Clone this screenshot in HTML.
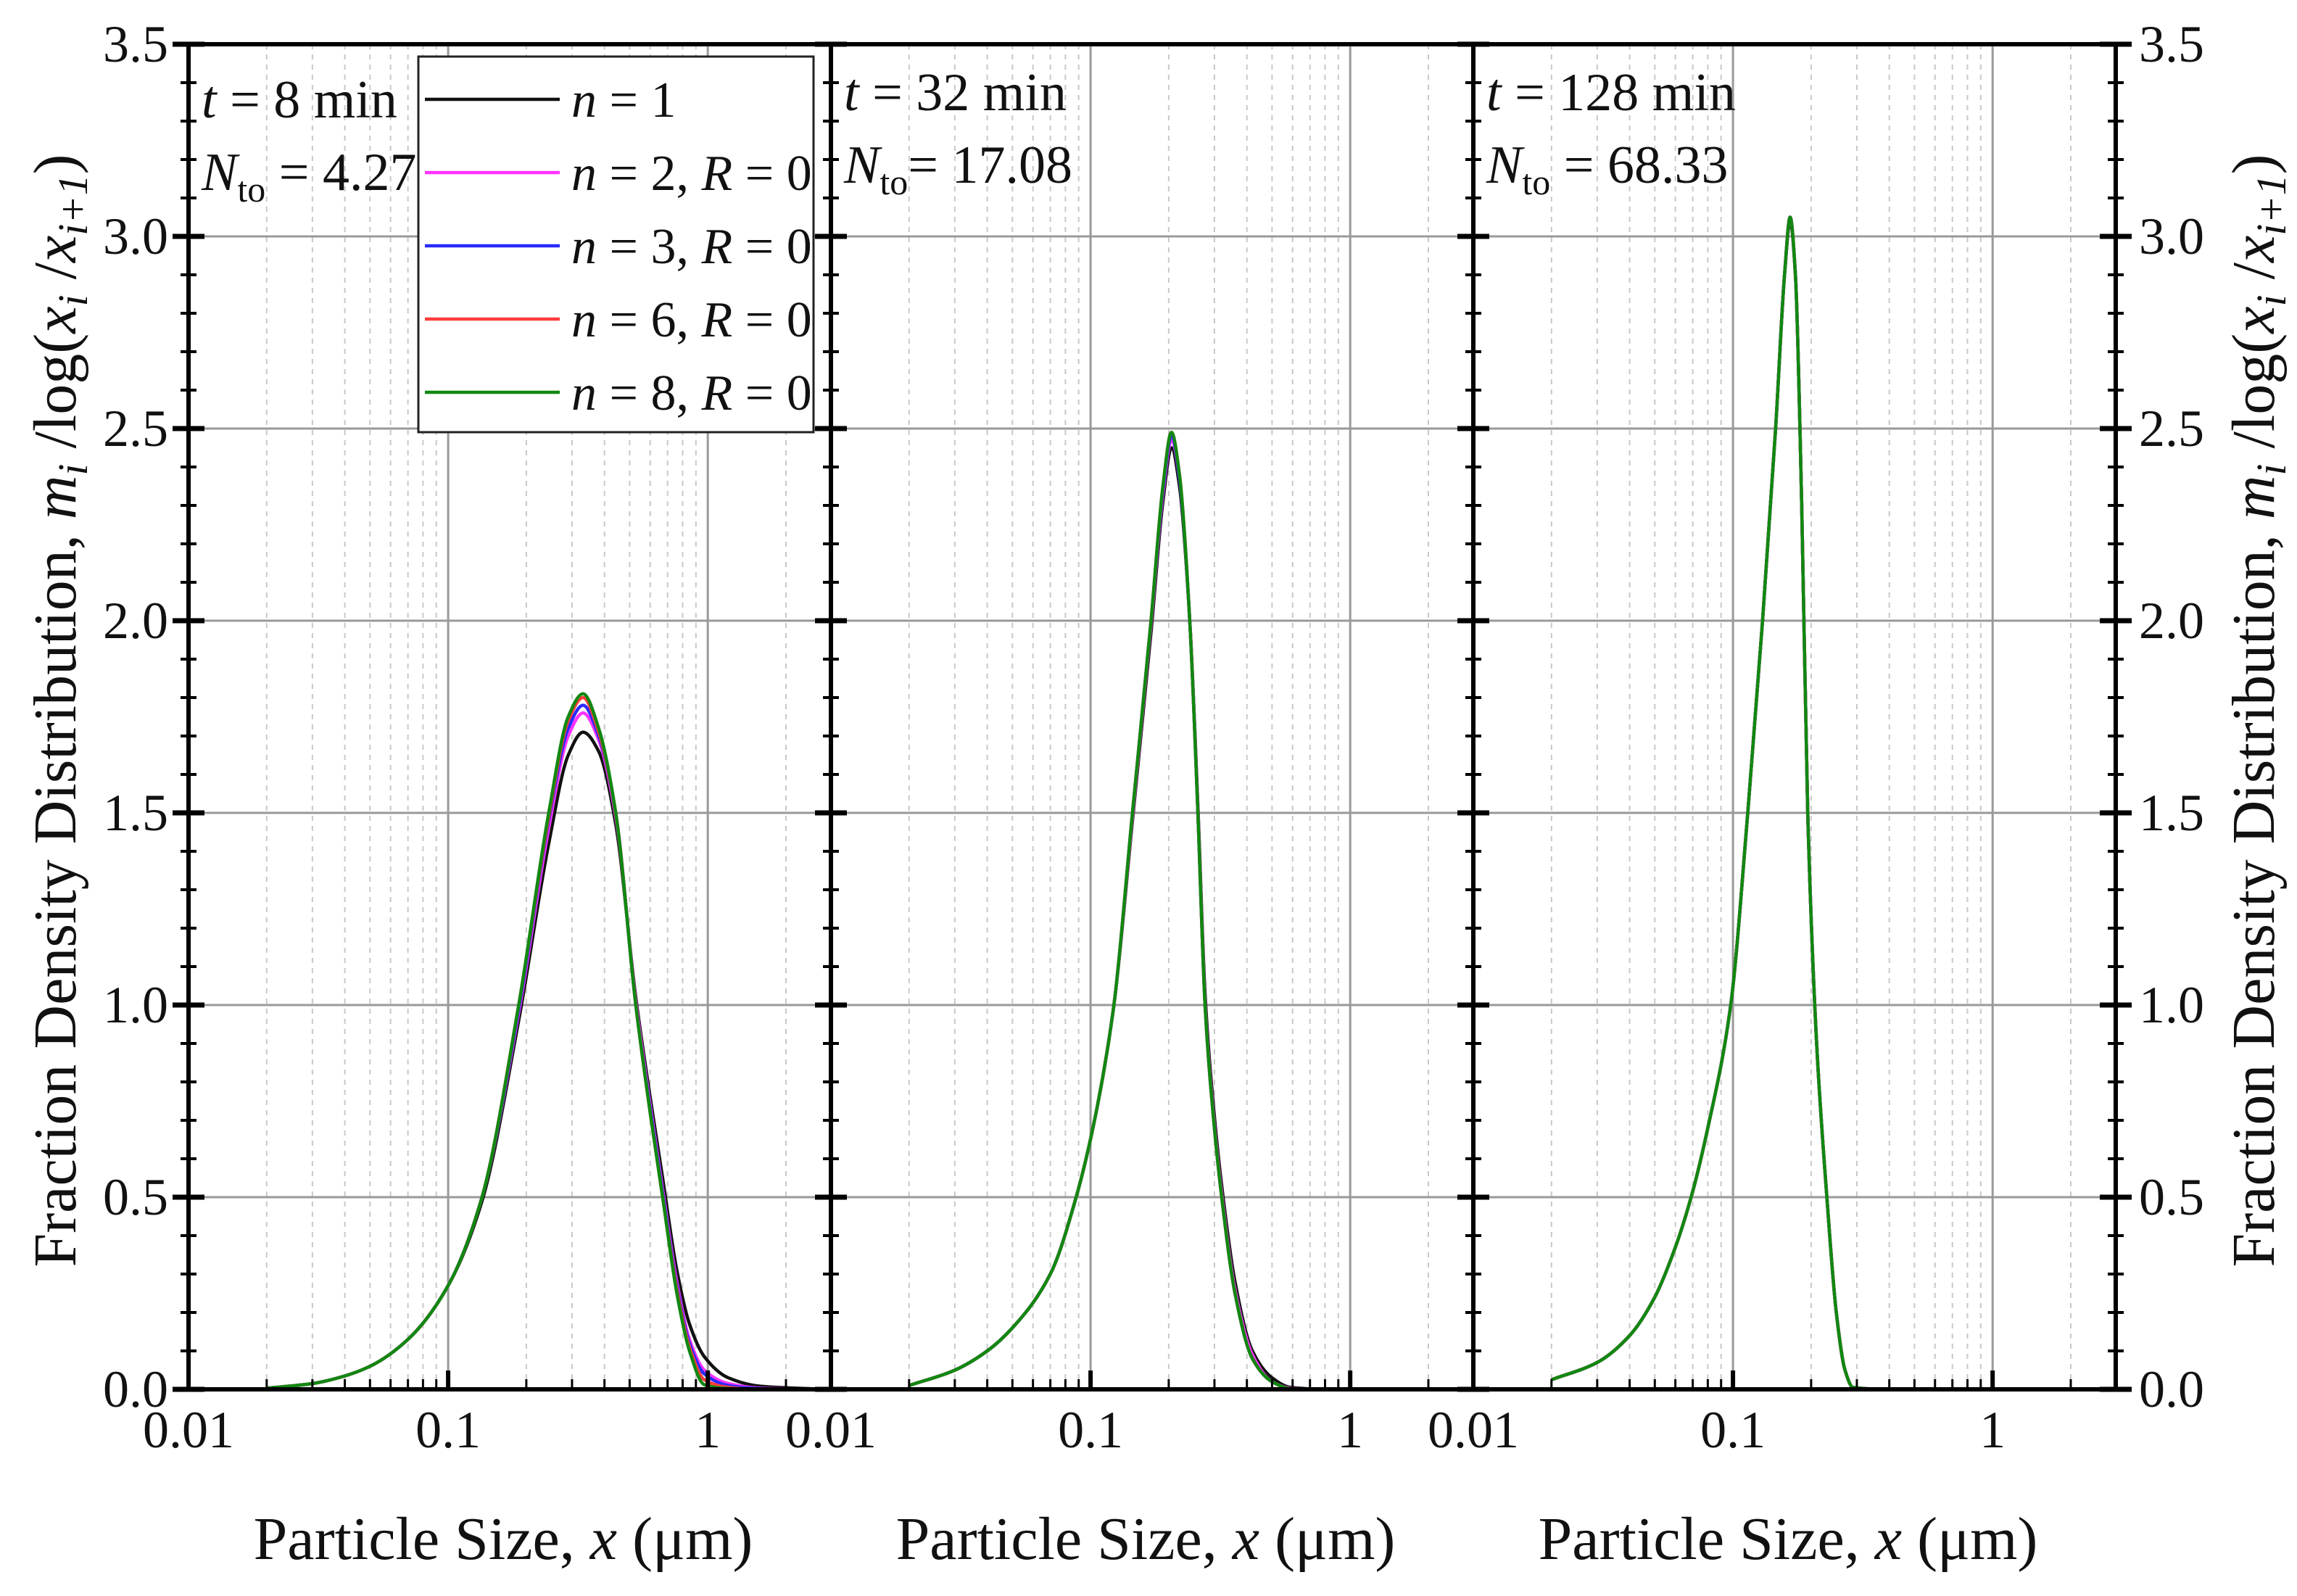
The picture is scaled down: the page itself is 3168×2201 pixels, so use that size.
<!DOCTYPE html>
<html><head><meta charset="utf-8"><style>
html,body{margin:0;padding:0;background:#fff}
svg{display:block}
text{font-family:"Liberation Serif",serif;fill:#111}
</style></head><body>
<svg id="chart" width="3168" height="2201" viewBox="0 0 3168 2201" xmlns="http://www.w3.org/2000/svg">
<g id="grid"></g>
<g id="curves"></g>
<g id="axes"></g>
<g id="labels"></g>

<text transform="translate(104,980) rotate(-90)" text-anchor="middle" font-size="84">Fraction Density Distribution, <tspan font-style="italic">m</tspan><tspan font-style="italic" font-size="58" dy="16">i</tspan><tspan dy="-16"> /log(</tspan><tspan font-style="italic">x</tspan><tspan font-style="italic" font-size="58" dy="16">i</tspan><tspan dy="-16"> /</tspan><tspan font-style="italic">x</tspan><tspan font-style="italic" font-size="58" dy="16">i+1</tspan><tspan dy="-16">)</tspan></text>
<text transform="translate(3136,980) rotate(-90)" text-anchor="middle" font-size="84">Fraction Density Distribution, <tspan font-style="italic">m</tspan><tspan font-style="italic" font-size="58" dy="16">i</tspan><tspan dy="-16"> /log(</tspan><tspan font-style="italic">x</tspan><tspan font-style="italic" font-size="58" dy="16">i</tspan><tspan dy="-16"> /</tspan><tspan font-style="italic">x</tspan><tspan font-style="italic" font-size="58" dy="16">i+1</tspan><tspan dy="-16">)</tspan></text>

<text x="694" y="2150" text-anchor="middle" font-size="84">Particle Size, <tspan font-style="italic">x</tspan> (μm)</text>
<text x="1580" y="2150" text-anchor="middle" font-size="84">Particle Size, <tspan font-style="italic">x</tspan> (μm)</text>
<text x="2466" y="2150" text-anchor="middle" font-size="84">Particle Size, <tspan font-style="italic">x</tspan> (μm)</text>

<g font-size="74">
<text x="278" y="162"><tspan font-style="italic">t</tspan> = 8 min</text>
<text x="278" y="262"><tspan font-style="italic">N</tspan><tspan font-size="50" dy="16">to</tspan><tspan dy="-16"> = 4.27</tspan></text>
</g>
<g font-size="74">
<text x="1164" y="152"><tspan font-style="italic">t</tspan> = 32 min</text>
<text x="1164" y="252"><tspan font-style="italic">N</tspan><tspan font-size="50" dy="16">to</tspan><tspan dy="-16">= 17.08</tspan></text>
</g>
<g font-size="74">
<text x="2050" y="152"><tspan font-style="italic">t</tspan> = 128 min</text>
<text x="2050" y="252"><tspan font-style="italic">N</tspan><tspan font-size="50" dy="16">to</tspan><tspan dy="-16"> = 68.33</tspan></text>
</g>

<g id="legend"></g>
</svg>
<script>
// ---- data ----
const seriesNames = ["n = 1", "n = 2, R = 0", "n = 3, R = 0", "n = 6, R = 0", "n = 8, R = 0"];
const seriesColors = ["#111111", "#ff33ff", "#2a2aff", "#ff3b3b", "#118811"];
const yTicks = [0.0, 0.5, 1.0, 1.5, 2.0, 2.5, 3.0, 3.5];
const yTickLabels = ["0.0", "0.5", "1.0", "1.5", "2.0", "2.5", "3.0", "3.5"];
const xTicks = [0.01, 0.1, 1];
const xTickLabels = ["0.01", "0.1", "1"];

const x8 = [0.02,0.03,0.04,0.05,0.07,0.1,0.135,0.187,0.244,0.29,0.331,0.38,0.442,0.528,0.6,0.67,0.76,0.85,0.97,1.2,1.6,2.9];
const y8n1 = [0.003,0.015,0.035,0.06,0.13,0.27,0.49,0.96,1.42,1.65,1.71,1.66,1.47,1.02,0.76,0.55,0.31,0.17,0.085,0.03,0.008,0];
const y8n2 = [0.003,0.015,0.035,0.06,0.13,0.27,0.5,0.98,1.46,1.70,1.76,1.69,1.49,1.01,0.74,0.52,0.28,0.13,0.05,0.015,0.003,0];
const y8n3 = [0.003,0.015,0.035,0.06,0.13,0.27,0.5,0.99,1.48,1.72,1.78,1.70,1.50,1.0,0.73,0.51,0.27,0.12,0.04,0.01,0.002,0];
const y8n6 = [0.003,0.015,0.035,0.06,0.13,0.27,0.5,1.0,1.49,1.74,1.80,1.71,1.50,1.0,0.72,0.5,0.26,0.11,0.025,0.005,0,0];
const y8n8 = [0.003,0.015,0.035,0.06,0.13,0.27,0.5,1.0,1.5,1.75,1.81,1.72,1.5,1.0,0.72,0.5,0.25,0.1,0.012,0.002,0,0];

const x32 = [0.02,0.03,0.04,0.05,0.07,0.088,0.105,0.123,0.145,0.171,0.19,0.205,0.22,0.241,0.259,0.276,0.3,0.32,0.36,0.42,0.5,0.59,0.8,2.9];
const y32n1 = [0.01,0.05,0.1,0.16,0.3,0.5,0.72,1.0,1.48,1.97,2.31,2.45,2.35,2.0,1.52,1.03,0.71,0.53,0.28,0.1,0.03,0.005,0,0];
const y32n2 = [0.01,0.05,0.1,0.16,0.3,0.5,0.72,1.0,1.49,1.99,2.33,2.47,2.37,2.0,1.51,1.01,0.69,0.51,0.26,0.09,0.02,0.003,0,0];
const y32n3 = [0.01,0.05,0.1,0.16,0.3,0.5,0.72,1.0,1.5,2.0,2.34,2.48,2.37,2.0,1.5,1.0,0.68,0.5,0.25,0.08,0.02,0.002,0,0];
const y32n6 = [0.01,0.05,0.1,0.16,0.3,0.5,0.72,1.0,1.5,2.0,2.35,2.49,2.38,2.0,1.5,1.0,0.68,0.5,0.25,0.08,0.02,0.002,0,0];
const y32n8 = [0.01,0.05,0.1,0.16,0.3,0.5,0.72,1.0,1.5,2.0,2.35,2.49,2.38,2.0,1.5,1.0,0.68,0.5,0.25,0.08,0.02,0.002,0,0];

const x128 = [0.02,0.03,0.04,0.05,0.06,0.069,0.08,0.098,0.114,0.13,0.146,0.158,0.166,0.174,0.184,0.194,0.21,0.23,0.25,0.27,0.29,0.4,2.9];
const y128n1 = [0.025,0.07,0.14,0.24,0.37,0.5,0.68,1.0,1.5,2.0,2.5,2.9,3.04,2.9,2.3,1.5,0.9,0.5,0.2,0.05,0.005,0,0];
const y128n2 = [0.025,0.07,0.14,0.24,0.37,0.5,0.68,1.0,1.5,2.0,2.5,2.9,3.05,2.9,2.3,1.5,0.9,0.5,0.2,0.05,0.005,0,0];
const y128n3 = [0.025,0.07,0.14,0.24,0.37,0.5,0.68,1.0,1.5,2.0,2.5,2.9,3.05,2.9,2.3,1.5,0.9,0.5,0.2,0.05,0.005,0,0];
const y128n6 = [0.025,0.07,0.14,0.24,0.37,0.5,0.68,1.0,1.5,2.0,2.5,2.9,3.05,2.9,2.3,1.5,0.9,0.5,0.2,0.05,0.005,0,0];
const y128n8 = [0.025,0.07,0.14,0.24,0.37,0.5,0.68,1.0,1.5,2.0,2.5,2.9,3.05,2.9,2.3,1.5,0.9,0.5,0.2,0.05,0.005,0,0];

const panelX = [x8, x32, x128];
const panelY = [[y8n1,y8n2,y8n3,y8n6,y8n8],[y32n1,y32n2,y32n3,y32n6,y32n8],[y128n1,y128n2,y128n3,y128n6,y128n8]];

// ---- layout ----
const NS = "http://www.w3.org/2000/svg";
const TOP = 61, BOT = 1916, PW = 886, LEFT0 = 260;
const XMIN = 0.01, XMAX = 2.98, YMAX = 3.5;
const DEC = PW / Math.log10(XMAX / XMIN);
function px(p, v) { return LEFT0 + p * PW + Math.log10(v / XMIN) * DEC; }
function py(v) { return BOT - (v / YMAX) * (BOT - TOP); }
function mk(tag, attrs, parent) {
  const e = document.createElementNS(NS, tag);
  for (const k in attrs) e.setAttribute(k, attrs[k]);
  parent.appendChild(e); return e;
}
function monoPath(X, Y) {
  const n = X.length, d = [], m = new Array(n);
  for (let i = 0; i < n - 1; i++) d.push((Y[i + 1] - Y[i]) / (X[i + 1] - X[i]));
  m[0] = d[0]; m[n - 1] = d[n - 2];
  for (let i = 1; i < n - 1; i++) {
    if (d[i - 1] * d[i] <= 0) m[i] = 0;
    else { const w1 = 2 * (X[i + 1] - X[i]) + (X[i] - X[i - 1]), w2 = (X[i + 1] - X[i]) + 2 * (X[i] - X[i - 1]);
      m[i] = (w1 + w2) / (w1 / d[i - 1] + w2 / d[i]); }
  }
  let s = 'M' + X[0].toFixed(1) + ',' + Y[0].toFixed(1);
  for (let i = 0; i < n - 1; i++) {
    const h = X[i + 1] - X[i];
    s += 'C' + (X[i] + h / 3).toFixed(1) + ',' + (Y[i] + m[i] * h / 3).toFixed(1) + ' ' +
         (X[i + 1] - h / 3).toFixed(1) + ',' + (Y[i + 1] - m[i + 1] * h / 3).toFixed(1) + ' ' +
         X[i + 1].toFixed(1) + ',' + Y[i + 1].toFixed(1);
  }
  return s;
}
const grid = document.getElementById('grid'), curves = document.getElementById('curves'),
      axes = document.getElementById('axes'), labels = document.getElementById('labels'),
      legend = document.getElementById('legend');

for (let p = 0; p < 3; p++) {
  const L = LEFT0 + p * PW, R = L + PW;
  for (let d = 0.01; d < 3; d *= 10) {
    for (let m = 2; m <= 9; m++) {
      const v = d * m; if (v > XMAX) break;
      const g = mk('line', {x1: px(p, v), x2: px(p, v), y1: TOP, y2: BOT, stroke: '#c8c8c8', 'stroke-width': 2, 'stroke-dasharray': '7,7'}, grid);
      
      
      const t = mk('line', {x1: px(p, v), x2: px(p, v), y1: BOT, y2: BOT - 14, stroke: '#000', 'stroke-width': 3}, axes);
      
      
    }
  }
  xTicks.forEach((v, i) => {
    if (i > 0) {
      const g = mk('line', {x1: px(p, v), x2: px(p, v), y1: TOP, y2: BOT, stroke: '#999', 'stroke-width': 3}, grid);
      
      
      const t = mk('line', {x1: px(p, v), x2: px(p, v), y1: BOT, y2: BOT - 26, stroke: '#000', 'stroke-width': 6}, axes);
      
      
    }
    const tx = mk('text', {x: px(p, v), y: 1996, 'text-anchor': 'middle', 'font-size': 72}, labels);
    tx.textContent = xTickLabels[i];
    
    
  });
  yTicks.forEach((v, i) => {
    if (i > 0 && i < yTicks.length - 1) {
      const g = mk('line', {x1: L, x2: R, y1: py(v), y2: py(v), stroke: '#999', 'stroke-width': 3}, grid);
      
      
    }
  });
  panelY[p].forEach((ys, s) => {
    const xs = panelX[p];
    const X = xs.map(x => px(p, x)), Y = ys.map(y => py(y));
    const path = mk('path', {d: monoPath(X, Y), fill: 'none', stroke: seriesColors[s], 'stroke-width': 4.5, 'stroke-linejoin': 'round'}, curves);
    
    
  });
}

mk('rect', {x: LEFT0, y: TOP, width: 3 * PW, height: BOT - TOP, fill: 'none', stroke: '#000', 'stroke-width': 6}, axes);
for (let p = 0; p <= 3; p++) {
  const X = LEFT0 + p * PW;
  const sp = mk('line', {x1: X, x2: X, y1: TOP, y2: BOT, stroke: '#000', 'stroke-width': 6}, axes);
  
  
  for (let k = 0; k <= 35; k++) {
    const v = k / 10, major = k % 5 === 0;
    const len = major ? 22 : 11;
    const t = mk('line', {x1: X - len, x2: X + len, y1: py(v), y2: py(v), stroke: '#000', 'stroke-width': major ? 7 : 4}, axes);
    
    
  }
}
yTicks.forEach((v, i) => {
  const a = mk('text', {x: 232, y: py(v) + 24, 'text-anchor': 'end', 'font-size': 72}, labels);
  a.textContent = yTickLabels[i];
  
  
  const b = mk('text', {x: 2950, y: py(v) + 24, 'text-anchor': 'start', 'font-size': 72}, labels);
  b.textContent = yTickLabels[i];
  
  
});

const box = mk('rect', {x: 577, y: 78, width: 545, height: 518, fill: '#fff', stroke: '#222', 'stroke-width': 3}, legend);


const legParts = [["n"," = 1"],["n"," = 2, ","R"," = 0"],["n"," = 3, ","R"," = 0"],["n"," = 6, ","R"," = 0"],["n"," = 8, ","R"," = 0"]];
seriesNames.forEach((nm, i) => {
  const y = 137 + i * 101;
  const ln = mk('line', {x1: 586, x2: 772, y1: y, y2: y, stroke: seriesColors[i], 'stroke-width': 4.5}, legend);
  
  
  const t = mk('text', {x: 788, y: y + 24, 'font-size': 70}, legend);
  
  
  legParts[i].forEach((part, j) => {
    const ts = mk('tspan', {}, t);
    if (j % 2 === 0) ts.setAttribute('font-style', 'italic');
    ts.textContent = part;
  });
});
</script>
</body></html>
